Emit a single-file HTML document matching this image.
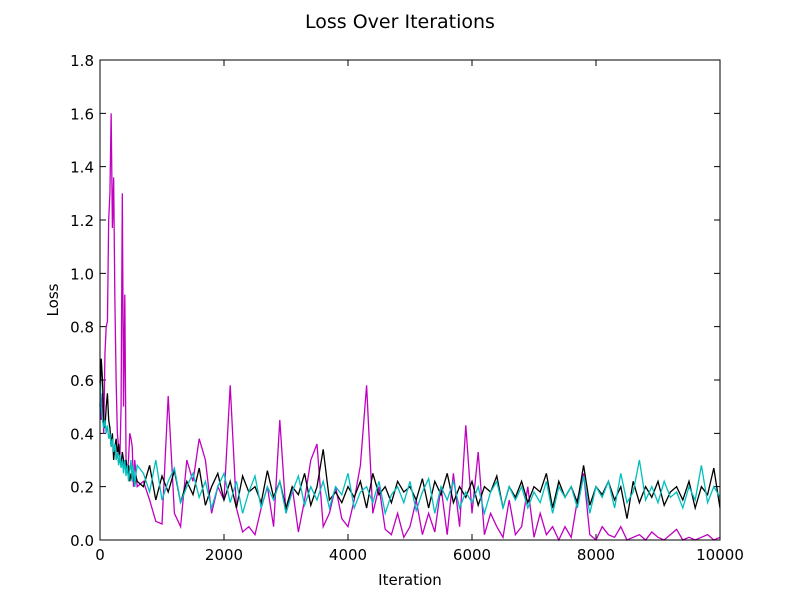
<!DOCTYPE html>
<html><head><meta charset="utf-8"><style>
body{margin:0;background:#fff}
svg text{font-family:"DejaVu Sans","Liberation Sans",sans-serif}
</style></head><body>
<svg id="chart" width="800" height="600" viewBox="0 0 800 600" xmlns="http://www.w3.org/2000/svg">
<rect width="800" height="600" fill="#fff"/>
<text x="400" y="28" font-size="19" text-anchor="middle">Loss Over Iterations</text>
<text x="410" y="585" font-size="15" text-anchor="middle">Iteration</text>
<text x="58" y="300" font-size="15" text-anchor="middle" transform="rotate(-90 58 300)">Loss</text>
<g id="plot"></g>
<rect x="100" y="60" width="620" height="480" fill="none" stroke="#000" stroke-width="1"/>
</svg>
<script>
const earlyIters=[0,20,40,60,80,100,120,140,160,180,200,220,240,260,280,300,320,340,360,380,400,420,440,460,480,500,520,540,560,580,600];
const magentaEarly=[0.6,0.45,0.55,0.4,0.7,0.8,0.82,1.2,1.3,1.6,1.17,1.36,0.9,0.6,0.4,0.35,0.3,0.5,1.3,0.5,0.92,0.3,0.25,0.3,0.4,0.38,0.35,0.2,0.3,0.25,0.2];
const blackEarly=[0.5,0.68,0.6,0.45,0.42,0.5,0.55,0.45,0.42,0.35,0.4,0.3,0.35,0.38,0.32,0.36,0.3,0.28,0.33,0.3,0.27,0.3,0.25,0.28,0.22,0.25,0.22,0.27,0.2,0.24,0.22];
const cyanEarly=[0.6,0.5,0.45,0.42,0.45,0.4,0.43,0.38,0.4,0.35,0.38,0.33,0.36,0.3,0.33,0.28,0.32,0.27,0.3,0.25,0.3,0.24,0.28,0.22,0.26,0.3,0.22,0.28,0.2,0.25,0.28];
const lateIters=[];for(let i=700;i<=10000;i+=100)lateIters.push(i);
const magentaLate=[.22,.15,.07,.06,.54,.1,.05,.3,.22,.38,.3,.1,.2,.15,.58,.12,.03,.05,.02,.12,.2,.05,.45,.1,.2,.03,.15,.3,.36,.05,.1,.2,.08,.05,.15,.28,.58,.1,.2,.04,.02,.1,.01,.05,.15,.02,.1,.03,.2,.02,.25,.05,.43,.1,.33,.02,.1,.05,.01,.15,.02,.05,.2,.01,.1,.02,.05,0,.05,.01,.15,.25,.02,0,.05,.02,.01,.05,0,.01,.02,0,.03,.01,0,.02,.04,0,.01,0,.01,.02,0,.01];
const blackLate=[.2,.28,.15,.24,.18,.26,.14,.22,.17,.27,.13,.2,.25,.15,.22,.12,.24,.18,.2,.14,.26,.16,.22,.12,.2,.17,.25,.13,.2,.34,.15,.18,.14,.2,.16,.22,.12,.25,.17,.2,.14,.22,.18,.2,.15,.23,.12,.22,.17,.25,.14,.2,.16,.22,.13,.2,.18,.24,.12,.2,.16,.22,.14,.2,.18,.25,.12,.22,.16,.2,.14,.28,.13,.2,.17,.22,.15,.2,.08,.22,.14,.2,.16,.22,.13,.18,.2,.15,.22,.12,.2,.17,.27,.12,.2];
const cyanLate=[.25,.18,.3,.15,.22,.27,.14,.2,.25,.16,.22,.12,.2,.25,.14,.22,.1,.18,.24,.12,.2,.15,.22,.1,.18,.24,.13,.2,.15,.22,.12,.2,.17,.25,.12,.18,.2,.14,.22,.1,.17,.2,.14,.22,.11,.18,.23,.1,.2,.15,.22,.12,.18,.14,.2,.1,.18,.22,.12,.2,.15,.2,.12,.18,.14,.22,.1,.2,.16,.2,.12,.24,.1,.2,.16,.22,.12,.25,.14,.18,.3,.15,.2,.14,.22,.16,.18,.12,.2,.15,.28,.14,.2,.16,.19];
const xTicks=[0,2000,4000,6000,8000,10000];
const yTicks=[0.0,0.2,0.4,0.6,0.8,1.0,1.2,1.4,1.6,1.8];
const X0=100,X1=720,Y0=540,Y1=60;
const sx=v=>X0+(v/10000)*(X1-X0);
const sy=v=>Y0-(v/1.8)*(Y0-Y1);
const NS='http://www.w3.org/2000/svg';
const g=document.getElementById('plot');
function mk(t,a){const e=document.createElementNS(NS,t);for(const k in a)e.setAttribute(k,a[k]);g.appendChild(e);return e;}
xTicks.forEach(v=>{
  const l=mk('path',{d:`M${sx(v)},540v-6M${sx(v)},60v6`,stroke:'#000'});
  
  
  const t=mk('text',{x:sx(v),y:560,'font-size':15,'text-anchor':'middle'});t.textContent=v;
  
  
});
yTicks.forEach(v=>{
  const l=mk('path',{d:`M100,${sy(v)}h6M720,${sy(v)}h-6`,stroke:'#000'});
  
  
  const t=mk('text',{x:94,y:sy(v)+6,'font-size':15,'text-anchor':'end'});t.textContent=v.toFixed(1);
  
  
});
const iters=earlyIters.concat(lateIters);
function line(vals,color,name){
  const d=vals.map((v,i)=>(i?'L':'M')+sx(iters[i]).toFixed(2)+','+sy(v).toFixed(2)).join('');
  const p=mk('path',{d:d,fill:'none',stroke:color,'stroke-width':1.3});
  
  
}
line(magentaEarly.concat(magentaLate),'#c000c0','series-magenta');
line(blackEarly.concat(blackLate),'#000','series-black');
line(cyanEarly.concat(cyanLate),'#00bfbf','series-cyan');
</script>
</body></html>
